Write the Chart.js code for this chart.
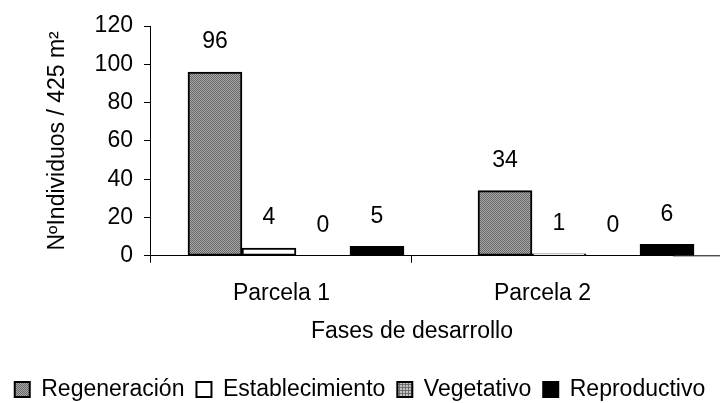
<!DOCTYPE html>
<html lang="es">
<head>
<meta charset="utf-8">
<title>Fases de desarrollo</title>
<script src="https://cdn.jsdelivr.net/npm/chart.js@4.4.0/dist/chart.umd.min.js"></script>
<style>
  html, body { margin: 0; padding: 0; background: #fff; }
  #wrap { width: 720px; height: 403px; }
</style>
</head>
<body>
<div id="wrap"><canvas id="faseChart"></canvas></div>
<script>
// Datos
const parcelas = ["Parcela 1", "Parcela 2"];
const fases = ["Regeneración", "Establecimiento", "Vegetativo", "Reproductivo"];
const regeneracion = [96, 34];
const establecimiento = [4, 1];
const vegetativo = [0, 0];
const reproductivo = [5, 6];
const yTicks = [0, 20, 40, 60, 80, 100, 120];

// Muster für die Balken (kleine Kacheln)
function makePattern(size, draw) {
  const c = document.createElement("canvas");
  c.width = size;
  c.height = size;
  draw(c.getContext("2d"));
  return c.getContext("2d").createPattern(c, "repeat");
}

const punteado = makePattern(2, (g) => {
  g.fillStyle = "#a6a6a6";
  g.fillRect(0, 0, 2, 2);
  g.fillStyle = "#6a6a6a";
  g.fillRect(0, 0, 1, 1);
  g.fillRect(1, 1, 1, 1);
});

const rejilla = makePattern(3, (g) => {
  g.fillStyle = "#c4c4c4";
  g.fillRect(0, 0, 3, 3);
  g.fillStyle = "#6e6e6e";
  g.fillRect(0, 0, 3, 1);
  g.fillRect(0, 0, 1, 3);
});

// Valores encima de cada barra
const valueLabels = {
  id: "valueLabels",
  afterDatasetsDraw(chart) {
    const ctx = chart.ctx;
    ctx.save();
    ctx.font = "23px 'Liberation Sans', Arial, sans-serif";
    ctx.fillStyle = "#000";
    ctx.textAlign = "center";
    ctx.textBaseline = "middle";
    chart.data.datasets.forEach((ds, i) => {
      chart.getDatasetMeta(i).data.forEach((bar, j) => {
        ctx.fillText(String(ds.data[j].y), bar.x, bar.y - 30);
      });
    });
    ctx.restore();
  }
};

// Eje X continúa hasta el borde derecho
const axisLine = {
  id: "axisLine",
  afterDraw(chart) {
    const { ctx, chartArea } = chart;
    const y = chart.scales.y.getPixelForValue(0);
    ctx.save();
    ctx.strokeStyle = "#000";
    ctx.lineWidth = 1;
    ctx.beginPath();
    ctx.moveTo(chartArea.right, y);
    ctx.lineTo(chart.width, y);
    ctx.stroke();
    ctx.restore();
  }
};

const series = [regeneracion, establecimiento, vegetativo, reproductivo];
const fills = [punteado, "#ffffff", rejilla, "#000000"];

const datasets = fases.map((name, k) => ({
  label: name,
  data: series[k].map((v, i) => ({ x: i + 0.5, y: v })),
  xAxisID: "xb",
  backgroundColor: fills[k],
  borderColor: "#000",
  borderWidth: 2,
  borderSkipped: false,
  barThickness: 54,
  clip: false
}));

Chart.defaults.font.family = "'Liberation Sans', Arial, sans-serif";
Chart.defaults.font.size = 23;
Chart.defaults.color = "#000";

new Chart(document.getElementById("faseChart"), {
  type: "bar",
  data: { labels: parcelas, datasets: datasets },
  plugins: [valueLabels, axisLine],
  options: {
    responsive: true,
    maintainAspectRatio: false,
    animation: false,
    layout: { padding: { top: 26, right: 0, bottom: 0, left: 0 } },
    plugins: {
      tooltip: { enabled: false },
      legend: {
        position: "bottom",
        maxHeight: 37,
        labels: {
          boxWidth: 15,
          boxHeight: 15,
          padding: 12,
          font: { size: 23 }
        }
      }
    },
    scales: {
      // eje de las barras (oculto)
      xb: {
        type: "linear",
        display: false,
        offset: false,
        min: 0,
        max: 1.8
      },
      // eje visible con las parcelas
      x: {
        type: "category",
        offset: true,
        grid: {
          offset: true,
          drawOnChartArea: false,
          tickLength: 7,
          tickColor: (c) => (c.type === "tick" ? "#000" : "rgba(0,0,0,0)")
        },
        border: { color: "#000", width: 1 },
        ticks: { padding: 17, maxRotation: 0 },
        title: {
          display: true,
          text: "Fases de desarrollo",
          padding: { top: -7, bottom: 21 }
        }
      },
      y: {
        min: 0,
        max: 120,
        afterBuildTicks: (axis) => { axis.ticks = yTicks.map((v) => ({ value: v })); },
        grid: { drawOnChartArea: false, tickLength: 7, tickColor: "#000" },
        border: { color: "#000", width: 1 },
        ticks: { padding: 11, autoSkip: false },
        title: {
          display: true,
          text: "NºIndividuos / 425 m²",
          padding: { top: 44, bottom: 12 }
        }
      },
      // espacio a la derecha del área del gráfico
      yr: {
        position: "right",
        grid: { display: false },
        border: { display: false },
        ticks: { display: false },
        afterFit: (axis) => { axis.width = 47; }
      }
    }
  }
});
</script>
</body>
</html>
